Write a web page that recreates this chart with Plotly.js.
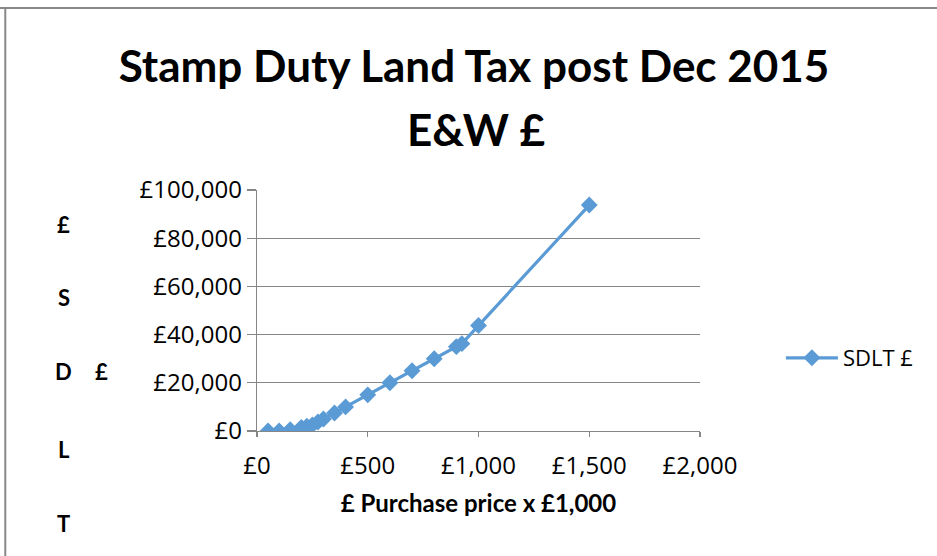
<!DOCTYPE html>
<html><head><meta charset="utf-8">
<script src="https://cdn.plot.ly/plotly-3.0.1.min.js"></script>
<style>html,body{margin:0;padding:0;background:#fff;}#chart{width:937px;height:556px;}</style>
</head><body><div id="chart"></div>
<script>
// Purchase price (x £1,000) and SDLT due (£)
const purchasePrice = [50,100,150,200,225,250,275,300,350,400,500,600,700,800,900,925,1000,1500];
const sdltDue = [0,0,500,1500,2000,2500,3750,5000,7500,10000,15000,20000,25000,30000,35000,36250,43750,93750];
const seriesName = 'SDLT £';
const xTickVals = [0,500,1000,1500,2000];
const xTickText = ['£0','£500','£1,000','£1,500','£2,000'];
const yTickVals = [0,20000,40000,60000,80000,100000];
const yTickText = ['£0','£20,000','£40,000','£60,000','£80,000','£100,000'];
const titleLine1 = 'Stamp Duty Land Tax post Dec 2015';
const titleLine2 = 'E&W £';
const xTitle = '£ Purchase price x £1,000';
const yTitleLetters = ['£','S','D','L','T'];

const FONT = 'Lato, "Open Sans", sans-serif';
const TFONT = '"Open Sans", sans-serif';
const blue = '#5B9BD5';
const gridC = '#868686';
const PW = 443.5, PH = 241, L = 256.5, B = 431;
const px = v => (v - L) / PW;
const py = v => (B - v) / PH;

const yLetterPos = [224, 297, 371, 449, 523];
const annotations = yTitleLetters.map((ch, i) => ({
  text: '<b>' + ch + '</b>', xref: 'paper', yref: 'paper',
  x: px(63), y: py(yLetterPos[i]),
  showarrow: false, xanchor: 'center', yanchor: 'middle',
  font: {family: FONT, size: 22, color: '#000'}
}));
annotations.push({
  text: '<b>£</b>', xref: 'paper', yref: 'paper',
  x: px(101), y: py(371),
  showarrow: false, xanchor: 'center', yanchor: 'middle',
  font: {family: FONT, size: 22, color: '#000'}
});
annotations.push({
  text: '<b>' + titleLine2 + '</b>', xref: 'paper', yref: 'paper',
  x: px(476), y: py(129),
  showarrow: false, xanchor: 'center', yanchor: 'middle',
  font: {family: FONT, size: 44, color: '#000'}
});

const trace = {
  x: purchasePrice, y: sdltDue, name: seriesName,
  type: 'scatter', mode: 'lines+markers',
  line: {color: blue, width: 3.2},
  marker: {symbol: 'diamond', size: 13, color: blue},
  showlegend: true
};

const layout = {
  width: 937, height: 556,
  margin: {l: L, r: 937 - L - PW, t: B - PH, b: 556 - B, pad: 0},
  paper_bgcolor: '#fff', plot_bgcolor: '#fff',
  font: {family: FONT, color: '#000'},
  title: {text: '<b>' + titleLine1 + '</b>', x: 474 / 937, xanchor: 'center',
          yref: 'container', y: 1 - 67 / 556, yanchor: 'middle',
          font: {family: FONT, size: 44, color: '#000'}},
  xaxis: {range: [0, 2000], tickvals: xTickVals, ticktext: xTickText,
          showgrid: false, zeroline: false, showline: true, linecolor: gridC, linewidth: 1.3,
          ticks: 'outside', ticklen: 5, tickcolor: gridC, tickwidth: 1.3,
          ticklabelstandoff: 8,
          tickfont: {family: TFONT, size: 24, color: '#000'},
          title: {text: '<b>' + xTitle + '</b>', font: {family: FONT, size: 24, color: '#000'}, standoff: 15}},
  yaxis: {range: [0, 100000], tickvals: yTickVals, ticktext: yTickText,
          showgrid: true, gridcolor: gridC, gridwidth: 1.3, zeroline: false,
          showline: true, linecolor: gridC, linewidth: 1.3,
          ticks: 'outside', ticklen: 9, tickcolor: gridC, tickwidth: 1.3,
          tickfont: {family: TFONT, size: 24, color: '#000'}},
  legend: {x: px(781), y: py(358), xanchor: 'left', yanchor: 'middle',
           itemwidth: 52,
           font: {family: TFONT, size: 22, color: '#000'}, bgcolor: 'rgba(0,0,0,0)'},
  annotations: annotations,
  shapes: [
    {type: 'line', xref: 'paper', yref: 'paper', x0: -2, x1: 2, y0: py(8), y1: py(8),
     line: {color: '#888', width: 2}},
    {type: 'line', xref: 'paper', yref: 'paper', x0: px(4.5), x1: px(4.5),
     y0: py(8), y1: -1, line: {color: '#888', width: 2}}
  ]
};

Plotly.newPlot('chart', [trace], layout, {displayModeBar: false, staticPlot: true});
</script>
</body></html>
